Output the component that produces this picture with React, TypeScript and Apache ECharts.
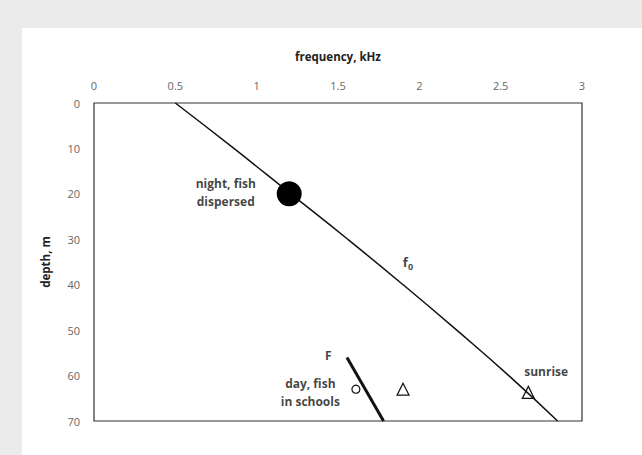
import React, { useEffect, useRef } from "react";
import * as echarts from "echarts";

const xTicks = [0, 0.5, 1, 1.5, 2, 2.5, 3];
const yTicks = [0, 10, 20, 30, 40, 50, 60, 70];

// f0 curve: [frequency kHz, depth m]
const f0Curve = [
  [0.5, 0], [0.86, 10], [1.21, 20], [1.56, 30], [1.9, 40], [2.23, 50], [2.55, 60], [2.85, 70],
];
// F line
const fLine = [[1.555, 56], [1.78, 70]];
// night point
const nightPoint = [[1.2, 20]];
// day circle
const dayCircle = [[1.61, 63]];
// triangles
const triangles = [[1.9, 63], [2.67, 63.7]];

// annotations: [freq, depth, text]
const annotations: [number, number, string][] = [
  [0.81, 19.8, "night, fish\ndispersed"],
  [1.93, 35, "f0"],
  [1.44, 55.5, "F"],
  [1.33, 63.7, "day, fish\nin schools"],
  [2.78, 59.2, "sunrise"],
];

export default function App() {
  const ref = useRef<HTMLDivElement>(null);
  useEffect(() => {
    if (!ref.current) return;
    const chart = echarts.init(ref.current, undefined, { renderer: "svg" });
    const font = "'Open Sans', 'Liberation Sans', sans-serif";
    chart.setOption({
      animation: false,
      backgroundColor: "#ebebeb",
      graphic: [
        { type: "rect", left: 22, top: 28, shape: { width: 620, height: 427 }, style: { fill: "#ffffff" }, z: -10 },
      ],
      grid: { left: 94, right: 60, top: 103, bottom: 34, show: true, borderColor: "#333", borderWidth: 1.2, backgroundColor: "#fff" },
      xAxis: {
        type: "value", position: "top", min: 0, max: 3, interval: 0.5,
        name: "frequency, kHz", nameLocation: "middle", nameGap: 41,
        nameTextStyle: { fontFamily: font, fontWeight: "bold", fontSize: 11.5, color: "#222" },
        axisLine: { show: false }, axisTick: { show: false }, splitLine: { show: false },
        axisLabel: { margin: 12, fontFamily: font, fontSize: 11, color: "#666", formatter: (v: number) => String(xTicks.includes(v) ? v : v) },
      },
      yAxis: {
        type: "value", inverse: true, min: 0, max: 70, interval: 10,
        name: "depth, m", nameLocation: "middle", nameGap: 43, nameRotate: 90,
        nameTextStyle: { fontFamily: font, fontWeight: "bold", fontSize: 11.5, color: "#222" },
        axisLine: { show: false }, axisTick: { show: false }, splitLine: { show: false },
        axisLabel: { margin: 14, fontFamily: font, fontSize: 11, color: "#666", formatter: (v: number) => String(yTicks.includes(v) ? v : v) },
      },
      series: [
        { type: "line", data: f0Curve, smooth: true, symbol: "none", lineStyle: { color: "#111", width: 1.5 }, z: 3 },
        { type: "line", data: fLine, symbol: "none", lineStyle: { color: "#111", width: 3 }, z: 3 },
        { type: "scatter", data: nightPoint, symbol: "circle", symbolSize: 25, itemStyle: { color: "#000", opacity: 1 }, z: 5 },
        { type: "scatter", data: dayCircle, symbol: "circle", symbolSize: 8, itemStyle: { color: "#fff", borderColor: "#111", borderWidth: 1.2, opacity: 1 }, z: 5 },
        { type: "scatter", data: triangles, symbol: "triangle", symbolSize: 12, itemStyle: { color: "rgba(255,255,255,0)", borderColor: "#111", borderWidth: 1.2, opacity: 1 }, z: 5 },
        {
          type: "scatter", symbolSize: 0, z: 6,
          data: annotations.map((a) => ({ value: [a[0], a[1]], name: a[2] })),
          label: {
            show: true, position: "inside", align: "center", verticalAlign: "middle",
            fontFamily: font, fontWeight: "bold", fontSize: 12, color: "#111", lineHeight: 18,
            formatter: (p: any) => (p.name === "f0" ? "{a|f}{b|0}" : p.name),
            rich: {
              a: { fontFamily: font, fontWeight: "bold", fontSize: 13, color: "#111" },
              b: { fontFamily: font, fontWeight: "bold", fontSize: 9, color: "#111", verticalAlign: "bottom", padding: [6, 0, 0, 0] },
            },
          },
        },
      ],
    });
    return () => chart.dispose();
  }, []);
  return <div ref={ref} style={{ position: "absolute", left: 0, top: 0, width: 642, height: 455 }} />;
}
